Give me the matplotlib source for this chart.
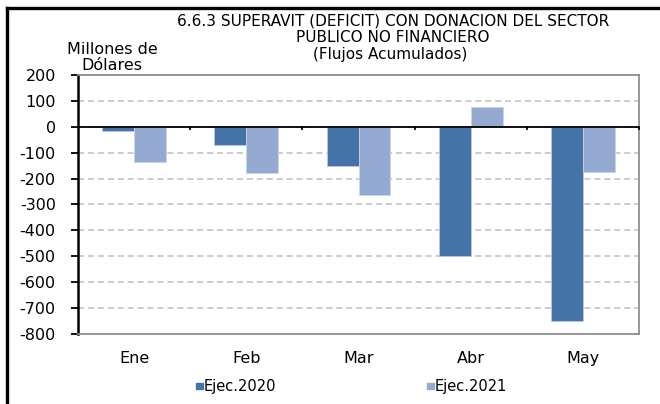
import matplotlib
matplotlib.use("Agg")
import matplotlib.pyplot as plt
import numpy as np
from matplotlib.lines import Line2D
from matplotlib.patches import Rectangle

plt.rcParams['font.family'] = ['DejaVu Sans']

months = ["Ene", "Feb", "Mar", "Abr", "May"]
ejec_2020 = [-18, -72, -153, -499, -751]
ejec_2021 = [-134, -180, -262, 76, -174]
series_names = ["Ejec.2020", "Ejec.2021"]
yticks = [200, 100, 0, -100, -200, -300, -400, -500, -600, -700, -800]

c2020 = "#4673a7"
c2021 = "#95aad1"

fig = plt.figure(figsize=(6.6, 4.04), dpi=100)
W, H = 660, 404
ax = fig.add_axes([78 / W, 1 - 334 / H, (639 - 78) / W, (334 - 75) / H])

x = np.arange(len(months))
bw = 0.285
ax.bar(x - bw / 2, ejec_2020, bw, color=c2020, edgecolor="#b8c8e0", linewidth=0.6, zorder=3)
ax.bar(x + bw / 2, ejec_2021, bw, color=c2021, edgecolor="#c8d4ea", linewidth=0.6, zorder=3)

ax.set_xlim(-0.5, len(months) - 0.5)
ax.set_ylim(-800, 200)
ax.set_yticks(yticks)
ax.set_yticklabels([str(v) for v in yticks], fontsize=11.5)
ax.yaxis.grid(True, linestyle=(0, (4, 2.5)), color="#bfbfbf", linewidth=1.1, zorder=0)
ax.axhline(0, color="black", linewidth=1.3, zorder=4)

# category boundary ticks hanging from the zero line (including the right end)
for b in np.arange(0.5, len(months), 1.0):
    ax.plot([b, b], [0, -9], color="black", linewidth=1.3, zorder=4, clip_on=False)

ax.set_xticks(x)
ax.set_xticklabels(months, fontsize=11.5)
ax.tick_params(axis="x", length=0, pad=12)
ax.tick_params(axis="y", length=5, width=1.3, direction="out", pad=11)

for s in ["top", "right", "bottom"]:
    ax.spines[s].set_color("#909090")
    ax.spines[s].set_linewidth(1.3)
ax.spines["left"].set_color("black")
ax.spines["left"].set_linewidth(1.8)

fig.text(393 / W, 1 - 21 / H, "6.6.3 SUPERAVIT (DEFICIT) CON DONACION DEL SECTOR",
         ha="center", va="center", fontsize=11)
fig.text(393 / W, 1 - 38 / H, "PUBLICO NO FINANCIERO", ha="center", va="center", fontsize=11)
fig.text(390 / W, 1 - 55 / H, "(Flujos Acumulados)", ha="center", va="center", fontsize=11)
fig.text(112 / W, 1 - 49 / H, "Millones de", ha="center", va="center", fontsize=11.5)
fig.text(112 / W, 1 - 66 / H, "Dólares", ha="center", va="center", fontsize=11.5)

# legend entries
for name, col, lx in zip(series_names, [c2020, c2021], [196, 427]):
    fig.patches.append(Rectangle((lx / W, 1 - 389 / H), 7 / W, 6 / H,
                                 transform=fig.transFigure, color=col))
    fig.text((lx + 8) / W, 1 - 386 / H, name, ha="left", va="center", fontsize=10.5)

# outer frame lines
fig.add_artist(Line2D([7 / W, 1], [1 - 8 / H, 1 - 8 / H], color="black", linewidth=2.4,
                      transform=fig.transFigure))
fig.add_artist(Line2D([7 / W, 7 / W], [0, 1 - 8 / H], color="black", linewidth=2.4,
                      transform=fig.transFigure))

fig.savefig("out.png", dpi=100)
